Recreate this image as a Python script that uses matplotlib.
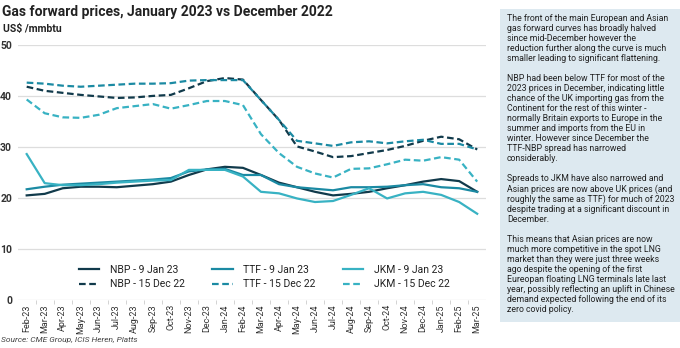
import matplotlib
matplotlib.use("Agg")
import matplotlib.pyplot as plt
from matplotlib import font_manager
import numpy as np

# pick a narrow face if one is installed
names = set(f.name for f in font_manager.fontManager.ttflist)
face = "Liberation Sans Narrow" if "Liberation Sans Narrow" in names else "Roboto"
plt.rcParams['font.family'] = [face, 'DejaVu Sans']

#==========================DATA========================================

months = ["Feb-23", "Mar-23", "Apr-23", "May-23", "Jun-23", "Jul-23", "Aug-23", "Sep-23",
          "Oct-23", "Nov-23", "Dec-23", "Jan-24", "Feb-24", "Mar-24", "Apr-24", "May-24",
          "Jun-24", "Jul-24", "Aug-24", "Sep-24", "Oct-24", "Nov-24", "Dec-24", "Jan-25",
          "Feb-25", "Mar-25"]

nbp_jan = [20.5, 20.8, 21.9, 22.2, 22.2, 22.1, 22.4, 22.7, 23.2, 24.5, 25.6, 26.1, 25.9,
           24.5, 23.0, 22.1, 21.2, 20.5, 20.8, 21.2, 21.9, 22.5, 23.2, 23.7, 23.3, 21.2]
ttf_jan = [21.7, 22.2, 22.6, 22.8, 23.0, 23.2, 23.4, 23.6, 23.9, 25.2, 25.6, 25.7, 24.5,
           24.5, 22.7, 22.1, 21.8, 21.5, 22.1, 22.1, 22.2, 22.5, 22.7, 22.1, 21.9, 21.2]
jkm_jan = [28.6, 22.9, 22.5, 22.5, 22.7, 23.0, 23.2, 23.4, 23.5, 25.5, 25.5, 25.5, 24.2,
           21.2, 20.9, 19.9, 19.2, 19.4, 20.6, 21.9, 19.9, 20.9, 21.2, 20.6, 19.2, 16.9]
nbp_dec = [41.8, 41.0, 40.6, 40.2, 39.9, 39.6, 39.7, 40.0, 40.2, 41.5, 42.9, 43.5, 43.2,
           39.2, 35.3, 30.1, 29.1, 28.0, 28.2, 28.8, 29.4, 30.2, 31.2, 32.0, 31.5, 29.5]
ttf_dec = [42.6, 42.4, 42.0, 41.8, 42.0, 42.2, 42.4, 42.4, 42.5, 43.0, 43.1, 43.1, 43.1,
           39.2, 35.3, 31.2, 30.7, 30.2, 30.9, 31.1, 30.7, 31.1, 31.4, 30.6, 30.6, 29.5]
jkm_dec = [39.3, 36.6, 35.8, 35.7, 36.3, 37.6, 38.0, 38.4, 37.5, 38.2, 39.0, 39.0, 38.2,
           32.5, 28.8, 26.1, 24.8, 24.0, 25.7, 25.8, 26.6, 27.5, 27.3, 28.0, 27.5, 23.2]

note = ("The front of the main European and Asian\n"
        "gas forward curves has broadly halved\n"
        "since mid-December however the\n"
        "reduction further along the curve is much\n"
        "smaller leading to significant flattening.\n"
        "\n"
        "NBP had been below TTF for most of the\n"
        "2023 prices in December, indicating little\n"
        "chance of the UK importing gas from the\n"
        "Continent for the rest of this winter -\n"
        "normally Britain exports to Europe in the\n"
        "summer and imports from the EU in\n"
        "winter. However since December the\n"
        "TTF-NBP spread has narrowed\n"
        "considerably.\n"
        "\n"
        "Spreads to JKM have also narrowed and\n"
        "Asian prices are now above UK prices (and\n"
        "roughly the same as TTF) for much of 2023\n"
        "despite trading at a significant discount in\n"
        "December.\n"
        "\n"
        "This means that Asian prices are now\n"
        "much more competitive in the spot LNG\n"
        "market than they were just three weeks\n"
        "ago despite the opening of the first\n"
        "Eureopan floating LNG terminals late last\n"
        "year, possibly reflecting an uplift in Chinese\n"
        "demand expected following the end of its\n"
        "zero covid policy.")

#==========================PLOT========================================

c_nbp = "#113a4b"
c_ttf = "#1b8aa3"
c_jkm = "#38b2c3"

fig = plt.figure(figsize=(6.8, 3.48), dpi=100)
ax = fig.add_axes([0.026, 0.138, 0.689, 0.733])

x = np.arange(len(months))
dash = (0, (3, 1.6))
l1, = ax.plot(x, nbp_jan, color=c_nbp, lw=1.6, label="NBP - 9 Jan 23")
l2, = ax.plot(x, nbp_dec, color=c_nbp, lw=1.6, ls=dash, label="NBP - 15 Dec 22")
l3, = ax.plot(x, ttf_jan, color=c_ttf, lw=1.6, label="TTF - 9 Jan 23")
l4, = ax.plot(x, ttf_dec, color=c_ttf, lw=1.6, ls=dash, label="TTF - 15 Dec 22")
l5, = ax.plot(x, jkm_jan, color=c_jkm, lw=1.6, label="JKM - 9 Jan 23")
l6, = ax.plot(x, jkm_dec, color=c_jkm, lw=1.6, ls=dash, label="JKM - 15 Dec 22")

ax.set_xlim(-0.5, len(months) - 0.5)
ax.set_ylim(0, 50)
ax.set_yticks([0, 10, 20, 30, 40, 50])
ax.set_xticks(x)
ax.set_xticklabels(months, rotation=90, fontsize=6.5, color="#333333")
ax.set_xticks(x[:-1] + 0.5, minor=True)
ax.tick_params(axis="x", which="major", length=0, pad=3)
ax.tick_params(axis="x", which="minor", length=3, color="#cccccc", width=0.6)
ax.tick_params(axis="y", length=0, labelsize=7.5, labelcolor="#333333", pad=4)
for t in ax.get_yticklabels():
    t.set_fontweight("bold")
ax.grid(axis="y", color="#dddddd", lw=0.9)
ax.set_axisbelow(True)
for s in ["top", "right", "left", "bottom"]:
    ax.spines[s].set_visible(False)

leg = ax.legend(handles=[l1, l2, l3, l4, l5, l6], ncol=3, loc="center", frameon=False,
                bbox_to_anchor=(0.526, 0.09), fontsize=7.5, handlelength=2.0,
                columnspacing=2.6, labelspacing=0.45, handletextpad=1.0)
for t in leg.get_texts():
    t.set_color("#222222")

fig.text(0.003, 0.965, "Gas forward prices, January 2023 vs December 2022",
         fontsize=10, fontweight="bold", color="#222222", va="center")
fig.text(0.004, 0.918, "US$ /mmbtu", fontsize=7.5, fontweight="bold", color="#222222",
         va="center")
fig.text(0.002, 0.022, "Source: CME Group, ICIS Heren, Platts", fontsize=6,
         style="italic", color="#444444", va="center")

# commentary panel on the right
box = fig.add_axes([0.736, 0.075, 0.264, 0.9])
box.set_xticks([])
box.set_yticks([])
box.set_facecolor("#dde9f0")
for s in box.spines.values():
    s.set_visible(False)
box.text(0.035, 0.982, note, transform=box.transAxes, va="top", ha="left",
         fontsize=6.3, color="#222222", linespacing=1.14)

fig.savefig("out.png", dpi=100)
